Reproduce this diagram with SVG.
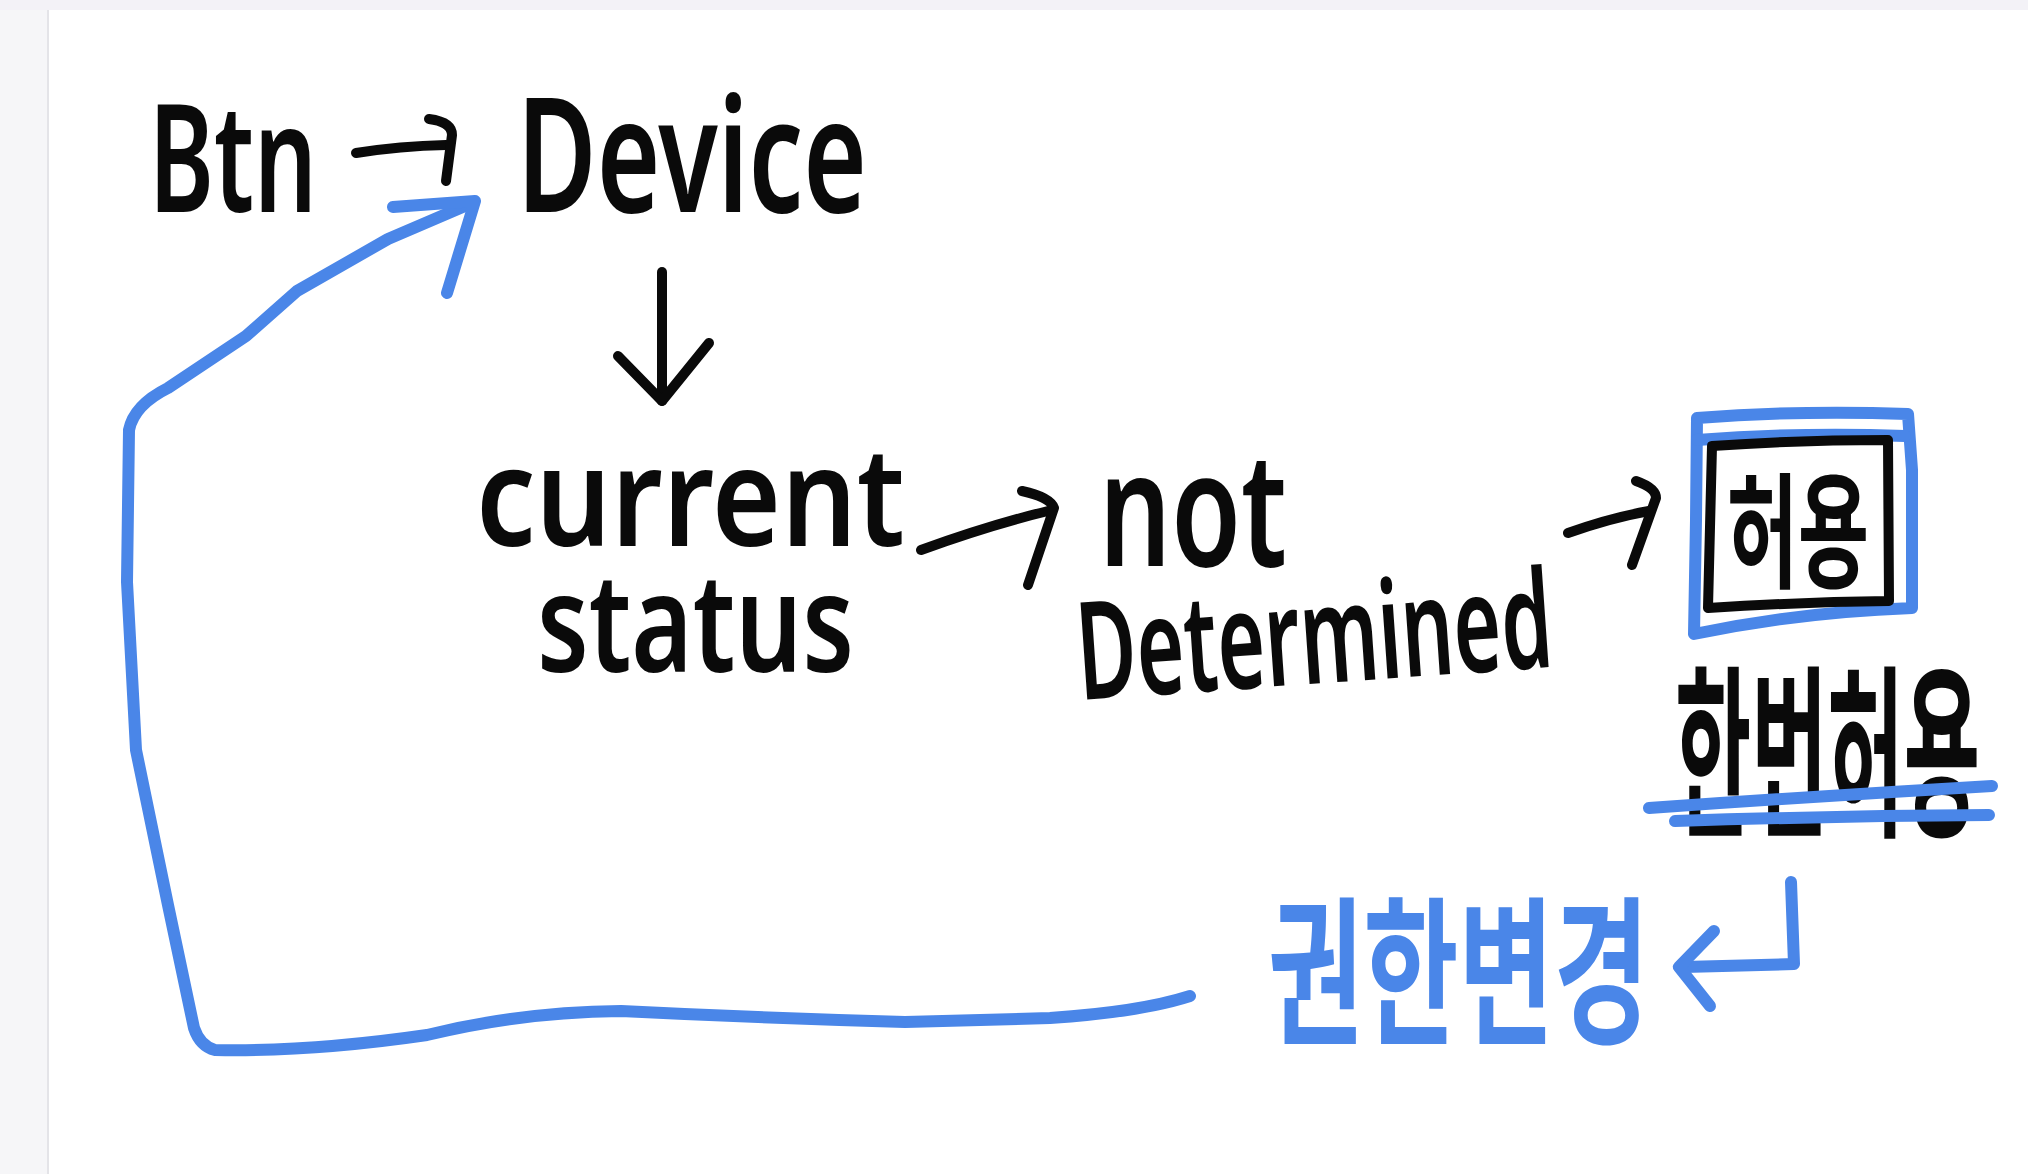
<svg xmlns="http://www.w3.org/2000/svg" width="2028" height="1174" viewBox="0 0 2028 1174">
<defs>
<style>
.ink{fill:#0a0a0a;font-family:"Noto Sans","Liberation Sans","Noto Sans CJK KR",sans-serif;font-weight:600}
.kr{font-family:"Noto Sans CJK KR","Noto Sans",sans-serif;font-weight:700}
.blueText{fill:#4a86e8}
.bk{fill:none;stroke:#0a0a0a;stroke-width:10;stroke-linecap:round;stroke-linejoin:round}
.bl{fill:none;stroke:#4a86e8;stroke-width:12;stroke-linecap:round;stroke-linejoin:round}
</style>
</defs>
<rect x="0" y="0" width="2028" height="1174" fill="#ffffff"/>
<rect x="0" y="0" width="48" height="1174" fill="#f6f6f8"/>
<line x1="48" y1="10" x2="48" y2="1174" stroke="#e4e4e8" stroke-width="2"/>
<rect x="0" y="0" width="2028" height="10" fill="#f3f2f7"/>

<g id="btn"><text class="ink" x="149" y="212" font-size="150" textLength="168" lengthAdjust="spacingAndGlyphs">Btn</text></g>
<g id="device"><text class="ink" x="517" y="212" font-size="160" textLength="350" lengthAdjust="spacingAndGlyphs">Device</text></g>
<g id="current-status">
<text class="ink" x="476" y="546" font-size="138" textLength="429" lengthAdjust="spacingAndGlyphs">current</text>
<text class="ink" x="537" y="672" font-size="138" textLength="317" lengthAdjust="spacingAndGlyphs">status</text>
</g>
<g id="not-determined">
<text class="ink" x="1099" y="566" font-size="160" textLength="188" lengthAdjust="spacingAndGlyphs">not</text>
<text class="ink" x="1080" y="700" font-size="136" textLength="476" lengthAdjust="spacingAndGlyphs" transform="rotate(-4 1080 700)">Determined</text>
</g>
<g id="allow-box">
<path class="bl" d="M1697,418 Q1800,410 1908,414 L1912,470 L1912,608 Q1800,612 1694,634 L1696,520 Z"/>
<path class="bl" d="M1697,440 Q1800,432 1905,436"/>
<path class="bk" d="M1712,446 Q1800,440 1888,440 L1889,601 Q1800,602 1708,608 Z"/>
<text class="ink kr" x="1727" y="578" font-size="125" textLength="142" lengthAdjust="spacingAndGlyphs">허용</text>
</g>
<g id="allow-once">
<text class="ink kr" x="1675" y="822" font-size="185" textLength="305" lengthAdjust="spacingAndGlyphs">한번허용</text>
<path class="bl" d="M1649,808 Q1820,796 1992,786"/>
<path class="bl" d="M1675,821 Q1830,816 1989,815"/>
</g>
<g id="change-permission">
<text class="kr blueText" x="1268" y="1032" font-size="160" textLength="381" lengthAdjust="spacingAndGlyphs">권한변경</text>
</g>

<g id="connectors">
<path class="bk" d="M356,153 Q400,146 446,145"/>
<path class="bk" d="M429,119 Q452,122 452,135 L446,181"/>
<path class="bk" d="M662,272 L662,401"/>
<path class="bk" d="M618,356 L662,401 L709,343"/>
<path class="bk" d="M921,550 Q990,525 1048,511"/>
<path class="bk" d="M1022,491 Q1050,497 1054,508 L1028,585"/>
<path class="bk" d="M1568,533 Q1610,518 1649,511"/>
<path class="bk" d="M1636,481 Q1656,488 1656,498 L1632,565"/>
<path class="bl" d="M1791,882 L1794,964 L1684,967"/>
<path class="bl" d="M1714,931 L1679,967 L1710,1006"/>
<path class="bl" d="M1190,996 Q1140,1012 1050,1018 L905,1022 Q760,1018 621,1011 Q520,1012 427,1035 Q310,1052 215,1050 Q200,1046 194,1028 L168,905 L136,750 L127,582 L129,430 Q134,405 168,388 L246,336 L297,291 L388,239 L472,203"/>
<path class="bl" d="M393,207 L475,201 L447,293"/>
</g>
</svg>
